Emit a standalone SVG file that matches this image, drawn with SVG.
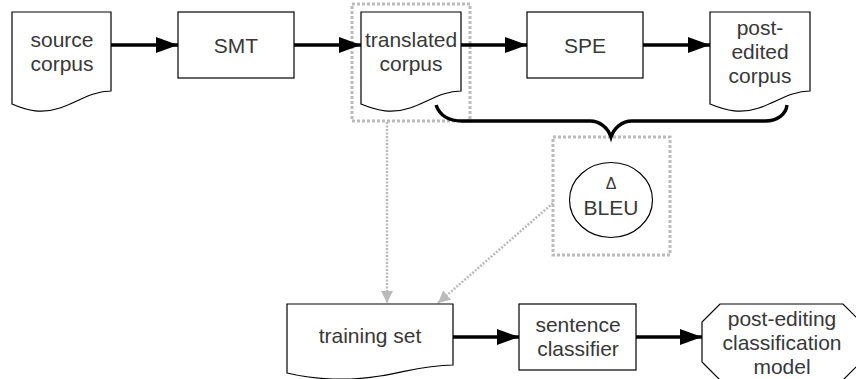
<svg xmlns="http://www.w3.org/2000/svg" width="856" height="379" viewBox="0 0 856 379">
<style>
.shape{fill:#fff;stroke:#000;stroke-width:1.2}
.t{font-family:"Liberation Sans",Arial,sans-serif;font-size:21px;fill:#383838;text-anchor:middle}
.flow{fill:none;stroke:#000;stroke-width:3.4}
.grp{fill:none;stroke:#bbb;stroke-width:3;stroke-dasharray:3 2}
.dot{fill:none;stroke:#bbb;stroke-width:2.5;stroke-dasharray:2 1.5}
</style>
<defs>
<marker id="ah" markerUnits="userSpaceOnUse" markerWidth="24" markerHeight="18" refX="22" refY="8" orient="auto">
<path d="M0,0 L22,8 L0,16 Z" fill="#000"/>
</marker>
<marker id="ag" markerUnits="userSpaceOnUse" markerWidth="14" markerHeight="14" refX="12" refY="6" orient="auto">
<path d="M0,0 L12,6 L0,12 Z" fill="#bbb"/>
</marker>
</defs>

<g id="group-translated">
<rect class="grp" x="352" y="4" width="118" height="117"/>
</g>
<g id="group-bleu">
<rect class="grp" x="553" y="137" width="117" height="118"/>
</g>

<g id="connectors">
<line class="flow" x1="111" y1="45" x2="178" y2="45" marker-end="url(#ah)"/>
<line class="flow" x1="294" y1="45" x2="361" y2="45" marker-end="url(#ah)"/>
<line class="flow" x1="461" y1="45" x2="527" y2="45" marker-end="url(#ah)"/>
<line class="flow" x1="643" y1="45" x2="710" y2="45" marker-end="url(#ah)"/>
<line class="flow" x1="453" y1="337" x2="519" y2="337" marker-end="url(#ah)"/>
<line class="flow" x1="636" y1="337" x2="702" y2="337" marker-end="url(#ah)"/>
<path class="flow" d="M436,105 C440,116 448,121 462,121 H590 C600,121 608,128 611,137 C614,128 622,121 632,121 H765 C778,121 786,114 787,105"/>
<line class="dot" x1="387" y1="122" x2="387" y2="303" marker-end="url(#ag)"/>
<line class="dot" x1="553" y1="203" x2="438" y2="303" marker-end="url(#ag)"/>
</g>

<g id="source-corpus">
<path class="shape" d="M12,12 H111 V91 C92,91 78,102 60,108 C42,114 28,111 12,104 Z"/>
<text class="t" x="62" y="47">source</text>
<text class="t" x="62" y="71">corpus</text>
</g>

<g id="smt">
<rect class="shape" x="178" y="12" width="116" height="66"/>
<text class="t" x="236" y="53">SMT</text>
</g>

<g id="translated-corpus">
<path class="shape" d="M361,12 H461 V91 C442,91 428,102 410,108 C392,114 378,111 361,104 Z"/>
<text class="t" x="411" y="47">translated</text>
<text class="t" x="411" y="71">corpus</text>
</g>

<g id="spe">
<rect class="shape" x="527" y="12" width="116" height="66"/>
<text class="t" x="585" y="53">SPE</text>
</g>

<g id="post-edited-corpus">
<path class="shape" d="M710,12 H810 V91 C791,91 777,102 759,108 C741,114 727,111 710,104 Z"/>
<text class="t" x="760" y="35">post-</text>
<text class="t" x="760" y="59">edited</text>
<text class="t" x="760" y="83">corpus</text>
</g>

<g id="delta-bleu">
<ellipse class="shape" cx="611" cy="200" rx="41.5" ry="37.5"/>
<text class="t" x="611" y="189" style="font-size:16px">Δ</text>
<text class="t" x="611" y="215">BLEU</text>
</g>

<g id="training-set">
<path class="shape" d="M287,304 H453 V365 C425,365 405,372 380,376 C350,381 315,380 287,373 Z"/>
<text class="t" x="370" y="343">training set</text>
</g>

<g id="sentence-classifier">
<rect class="shape" x="519" y="304" width="117" height="66"/>
<text class="t" x="578" y="332">sentence</text>
<text class="t" x="578" y="356">classifier</text>
</g>

<g id="classification-model">
<path class="shape" d="M720,304 H843 L861,322 V362 L843,380 H720 L702,362 V322 Z"/>
<text class="t" x="782" y="326">post-editing</text>
<text class="t" x="782" y="350">classification</text>
<text class="t" x="782" y="374">model</text>
</g>
</svg>
